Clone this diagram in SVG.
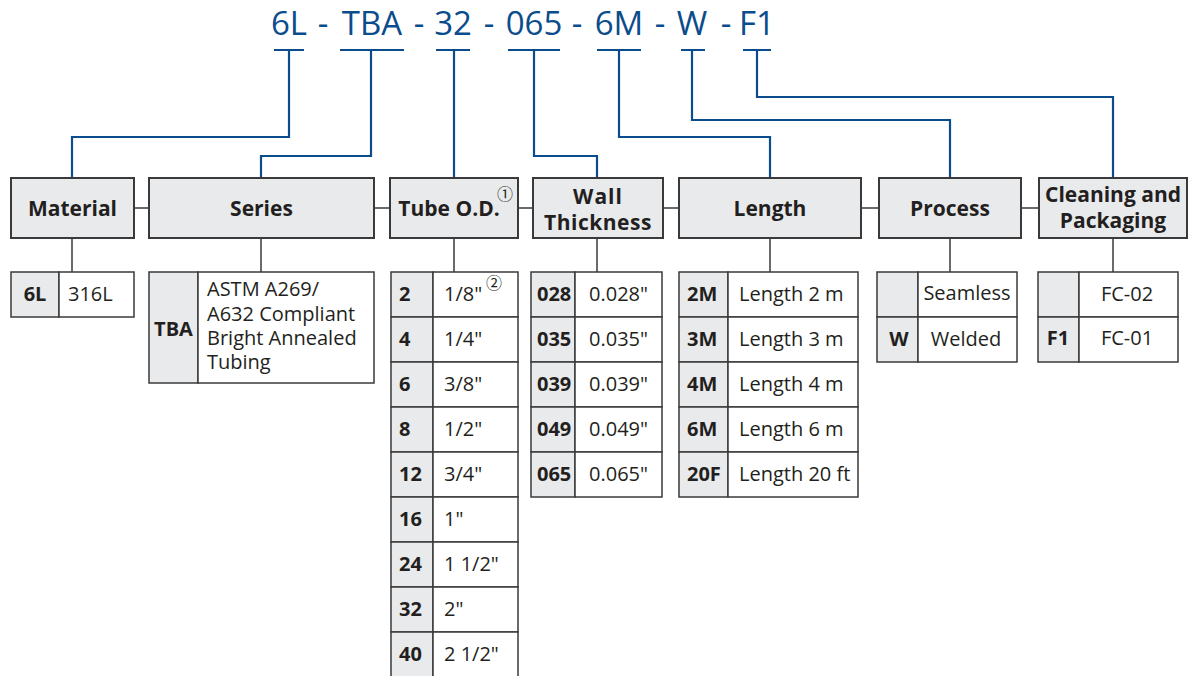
<svg xmlns="http://www.w3.org/2000/svg" width="1189" height="676" viewBox="0 0 1189 676">
<style>
.hdr{fill:#e9eaec;stroke:#3a3a3a;stroke-width:2}
.cc{fill:#e9eaec;stroke:#3a3a3a;stroke-width:1.5}
.vc{fill:#ffffff;stroke:#3a3a3a;stroke-width:1.5}
.blue{stroke:#0b4c8c;stroke-width:2.2;fill:none}
.blk{stroke:#3a3a3a;stroke-width:1.5;fill:none}
.title{font-family:'Open Sans','Noto Sans',sans-serif;font-size:33px;fill:#0b4c8c;text-anchor:middle}
.ht{font-family:'Open Sans','Noto Sans',sans-serif;font-size:21px;font-weight:bold;fill:#231f20;text-anchor:middle}
.ct{font-family:'Open Sans','Noto Sans',sans-serif;font-size:20px;font-weight:bold;fill:#231f20}
.vt{font-family:'Open Sans','Noto Sans',sans-serif;font-size:20px;fill:#231f20}
.mid{text-anchor:middle}
.sup{font-family:'Noto Sans CJK JP','DejaVu Sans',sans-serif;font-size:16px;fill:#231f20;text-anchor:middle}
</style>
<rect width="1189" height="676" fill="#ffffff"/>

<g id="title">
<text class="title" x="289" y="35">6L</text>
<text class="title" x="323" y="35">-</text>
<text class="title" x="372" y="35">TBA</text>
<text class="title" x="419" y="35">-</text>
<text class="title" x="453" y="35">32</text>
<text class="title" x="489" y="35">-</text>
<text class="title" x="534" y="35">065</text>
<text class="title" x="577" y="35">-</text>
<text class="title" x="619" y="35">6M</text>
<text class="title" x="660" y="35">-</text>
<text class="title" x="692" y="35">W</text>
<text class="title" x="726" y="35">-</text>
<text class="title" x="757" y="35">F1</text>
</g>

<g id="connectors">
<g class="blue">
<path d="M274 50H304M289 50V137H72V178"/>
<path d="M340 50H404M371 50V156H261V178"/>
<path d="M436 50H470M454 50V178"/>
<path d="M508 50H560M534 50V156H597V178"/>
<path d="M597 50H641M619 50V137H770V178"/>
<path d="M681 50H705M692 50V120H950V178"/>
<path d="M743 50H771M757 50V97H1113V178"/>
</g>
<g class="blk">
<path d="M134 208H149M374 208H390M518 208H533M663 208H679M861 208H879M1021 208H1039"/>
<path d="M72 238V272M261 238V272M454 238V272M597 238V272M770 238V272M950 238V272M1113 238V272"/>
</g>
</g>

<g id="material">
<rect class="hdr" x="11" y="178" width="123" height="60"/>
<text class="ht" x="72.5" y="216">Material</text>
<rect class="cc" x="11" y="272" width="48" height="45"/>
<rect class="vc" x="59" y="272" width="75" height="45"/>
<text class="ct mid" x="35" y="301">6L</text>
<text class="vt" x="68" y="301">316L</text>
</g>

<g id="series">
<rect class="hdr" x="149" y="178" width="225" height="60"/>
<text class="ht" x="261.5" y="216">Series</text>
<rect class="cc" x="149" y="272" width="49" height="111"/>
<rect class="vc" x="198" y="272" width="176" height="111"/>
<text class="ct mid" x="173.5" y="336">TBA</text>
<text class="vt" x="207" y="296">ASTM A269/</text>
<text class="vt" x="207" y="320.5">A632 Compliant</text>
<text class="vt" x="207" y="345">Bright Annealed</text>
<text class="vt" x="207" y="369">Tubing</text>
</g>

<g id="tube-od">
<rect class="hdr" x="390" y="178" width="128" height="60"/>
<text class="ht" x="449" y="216">Tube O.D.</text>
<text class="sup" x="505" y="200">①</text>
<g>
<rect class="cc" x="391" y="272" width="42" height="45"/><rect class="vc" x="433" y="272" width="85" height="45"/>
<rect class="cc" x="391" y="317" width="42" height="45"/><rect class="vc" x="433" y="317" width="85" height="45"/>
<rect class="cc" x="391" y="362" width="42" height="45"/><rect class="vc" x="433" y="362" width="85" height="45"/>
<rect class="cc" x="391" y="407" width="42" height="45"/><rect class="vc" x="433" y="407" width="85" height="45"/>
<rect class="cc" x="391" y="452" width="42" height="45"/><rect class="vc" x="433" y="452" width="85" height="45"/>
<rect class="cc" x="391" y="497" width="42" height="45"/><rect class="vc" x="433" y="497" width="85" height="45"/>
<rect class="cc" x="391" y="542" width="42" height="45"/><rect class="vc" x="433" y="542" width="85" height="45"/>
<rect class="cc" x="391" y="587" width="42" height="45"/><rect class="vc" x="433" y="587" width="85" height="45"/>
<rect class="cc" x="391" y="632" width="42" height="46"/><rect class="vc" x="433" y="632" width="85" height="46"/>
</g>
<text class="ct" x="399" y="301">2</text><text class="vt" x="444" y="301">1/8"</text><text class="sup" x="494" y="289">②</text>
<text class="ct" x="399" y="346">4</text><text class="vt" x="444" y="346">1/4"</text>
<text class="ct" x="399" y="391">6</text><text class="vt" x="444" y="391">3/8"</text>
<text class="ct" x="399" y="436">8</text><text class="vt" x="444" y="436">1/2"</text>
<text class="ct" x="399" y="481">12</text><text class="vt" x="444" y="481">3/4"</text>
<text class="ct" x="399" y="526">16</text><text class="vt" x="444" y="526">1"</text>
<text class="ct" x="399" y="571">24</text><text class="vt" x="444" y="571">1 1/2"</text>
<text class="ct" x="399" y="616">32</text><text class="vt" x="444" y="616">2"</text>
<text class="ct" x="399" y="661">40</text><text class="vt" x="444" y="661">2 1/2"</text>
</g>

<g id="wall-thickness">
<rect class="hdr" x="533" y="178" width="130" height="60"/>
<text class="ht" x="598" y="204" letter-spacing="1">Wall</text>
<text class="ht" x="598" y="230" letter-spacing="0.5">Thickness</text>
<rect class="cc" x="531" y="272" width="44" height="45"/><rect class="vc" x="575" y="272" width="87" height="45"/>
<rect class="cc" x="531" y="317" width="44" height="45"/><rect class="vc" x="575" y="317" width="87" height="45"/>
<rect class="cc" x="531" y="362" width="44" height="45"/><rect class="vc" x="575" y="362" width="87" height="45"/>
<rect class="cc" x="531" y="407" width="44" height="45"/><rect class="vc" x="575" y="407" width="87" height="45"/>
<rect class="cc" x="531" y="452" width="44" height="45"/><rect class="vc" x="575" y="452" width="87" height="45"/>
<text class="ct" x="537" y="301">028</text><text class="vt" x="589" y="301">0.028"</text>
<text class="ct" x="537" y="346">035</text><text class="vt" x="589" y="346">0.035"</text>
<text class="ct" x="537" y="391">039</text><text class="vt" x="589" y="391">0.039"</text>
<text class="ct" x="537" y="436">049</text><text class="vt" x="589" y="436">0.049"</text>
<text class="ct" x="537" y="481">065</text><text class="vt" x="589" y="481">0.065"</text>
</g>

<g id="length">
<rect class="hdr" x="679" y="178" width="182" height="60"/>
<text class="ht" x="770" y="216">Length</text>
<rect class="cc" x="679" y="272" width="49" height="45"/><rect class="vc" x="728" y="272" width="130" height="45"/>
<rect class="cc" x="679" y="317" width="49" height="45"/><rect class="vc" x="728" y="317" width="130" height="45"/>
<rect class="cc" x="679" y="362" width="49" height="45"/><rect class="vc" x="728" y="362" width="130" height="45"/>
<rect class="cc" x="679" y="407" width="49" height="45"/><rect class="vc" x="728" y="407" width="130" height="45"/>
<rect class="cc" x="679" y="452" width="49" height="45"/><rect class="vc" x="728" y="452" width="130" height="45"/>
<text class="ct" x="687" y="301">2M</text><text class="vt" x="739" y="301">Length 2 m</text>
<text class="ct" x="687" y="346">3M</text><text class="vt" x="739" y="346">Length 3 m</text>
<text class="ct" x="687" y="391">4M</text><text class="vt" x="739" y="391">Length 4 m</text>
<text class="ct" x="687" y="436">6M</text><text class="vt" x="739" y="436">Length 6 m</text>
<text class="ct" x="687" y="481">20F</text><text class="vt" x="739" y="481">Length 20 ft</text>
</g>

<g id="process">
<rect class="hdr" x="879" y="178" width="142" height="60"/>
<text class="ht" x="950" y="216">Process</text>
<rect class="cc" x="877" y="272" width="41" height="45"/><rect class="vc" x="918" y="272" width="99" height="45"/>
<rect class="cc" x="877" y="317" width="41" height="45"/><rect class="vc" x="918" y="317" width="99" height="45"/>
<text class="vt mid" x="967" y="300" font-size="18">Seamless</text>
<text class="ct mid" x="899" y="346">W</text><text class="vt mid" x="966" y="346">Welded</text>
</g>

<g id="cleaning-packaging">
<rect class="hdr" x="1039" y="178" width="148" height="60"/>
<text class="ht" x="1113" y="202">Cleaning and</text>
<text class="ht" x="1113" y="228">Packaging</text>
<rect class="cc" x="1038" y="272" width="41" height="45"/><rect class="vc" x="1079" y="272" width="99" height="45"/>
<rect class="cc" x="1038" y="317" width="41" height="45"/><rect class="vc" x="1079" y="317" width="99" height="45"/>
<text class="vt mid" x="1127" y="301">FC-02</text>
<text class="ct mid" x="1058" y="345">F1</text><text class="vt mid" x="1127" y="345">FC-01</text>
</g>
</svg>
